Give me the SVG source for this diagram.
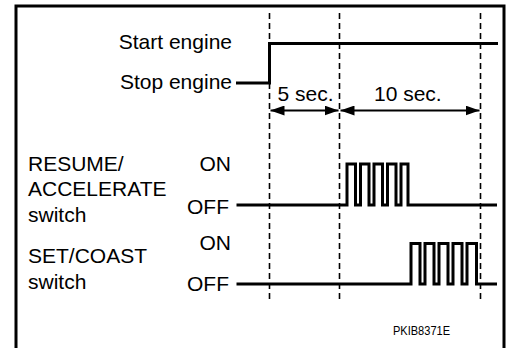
<svg xmlns="http://www.w3.org/2000/svg" width="507" height="348" viewBox="0 0 507 348">
<style>
text{font-family:"Liberation Sans",Arial,sans-serif;font-size:21px;fill:#000}
.sig{fill:none;stroke:#000;stroke-width:3;stroke-linejoin:miter;stroke-linecap:butt}
.dash{fill:none;stroke:#000;stroke-width:1.6;stroke-dasharray:6 4}
.dim{fill:none;stroke:#000;stroke-width:2}
.end{text-anchor:end}
</style>
<defs>
<marker id="ah" viewBox="0 0 14 10" refX="14" refY="5" markerWidth="14" markerHeight="10" markerUnits="userSpaceOnUse" orient="auto-start-reverse">
<path d="M0,0 L14,5 L0,10 Z" fill="#000"/>
</marker>
</defs>
<rect width="507" height="348" fill="#fff"/>
<path id="frame" d="M16,348 V6 H504 V348" fill="none" stroke="#000" stroke-width="3"/>
<g id="connectors">
<line class="dash" x1="269.5" y1="13" x2="269.5" y2="299"/>
<line class="dash" x1="339.5" y1="13" x2="339.5" y2="299"/>
<line class="dash" x1="480.5" y1="13" x2="480.5" y2="299"/>
<line class="dim" x1="270.5" y1="110.5" x2="338.5" y2="110.5" marker-start="url(#ah)" marker-end="url(#ah)"/>
<line class="dim" x1="340.5" y1="110.5" x2="479.5" y2="110.5" marker-start="url(#ah)" marker-end="url(#ah)"/>
</g>
<g id="engine">
<text class="end" x="232" y="49">Start engine</text>
<text class="end" x="232" y="89">Stop engine</text>
<path class="sig" d="M236,83 H269.5 V43.5 H498"/>
</g>
<g id="intervals">
<text x="277.5" y="100.5">5 sec.</text>
<text x="374" y="100.5">10 sec.</text>
</g>
<g id="resume">
<text x="28" y="170.5">RESUME/</text>
<text x="28" y="196">ACCELERATE</text>
<text x="28" y="221.5">switch</text>
<text class="end" x="231" y="170.5">ON</text>
<text class="end" x="229" y="213.5">OFF</text>
<path class="sig" d="M236.5,205 H347 V164 H355.5 V205 H360.5 V164 H369 V205 H374 V164 H382.5 V205 H387.5 V164 H396 V205 H401 V164 H408 V205 H497"/>
</g>
<g id="setcoast">
<text x="28" y="262.5">SET/COAST</text>
<text x="28" y="288.5">switch</text>
<text class="end" x="231" y="250">ON</text>
<text class="end" x="229" y="291">OFF</text>
<path class="sig" d="M236.5,284 H411 V243.5 H420 V284 H425 V243.5 H434 V284 H439 V243.5 H448 V284 H453 V243.5 H462 V284 H467 V243.5 H476.5 V284 H497"/>
</g>
<text x="393" y="335" style="font-size:12px" textLength="57" lengthAdjust="spacingAndGlyphs">PKIB8371E</text>
</svg>
